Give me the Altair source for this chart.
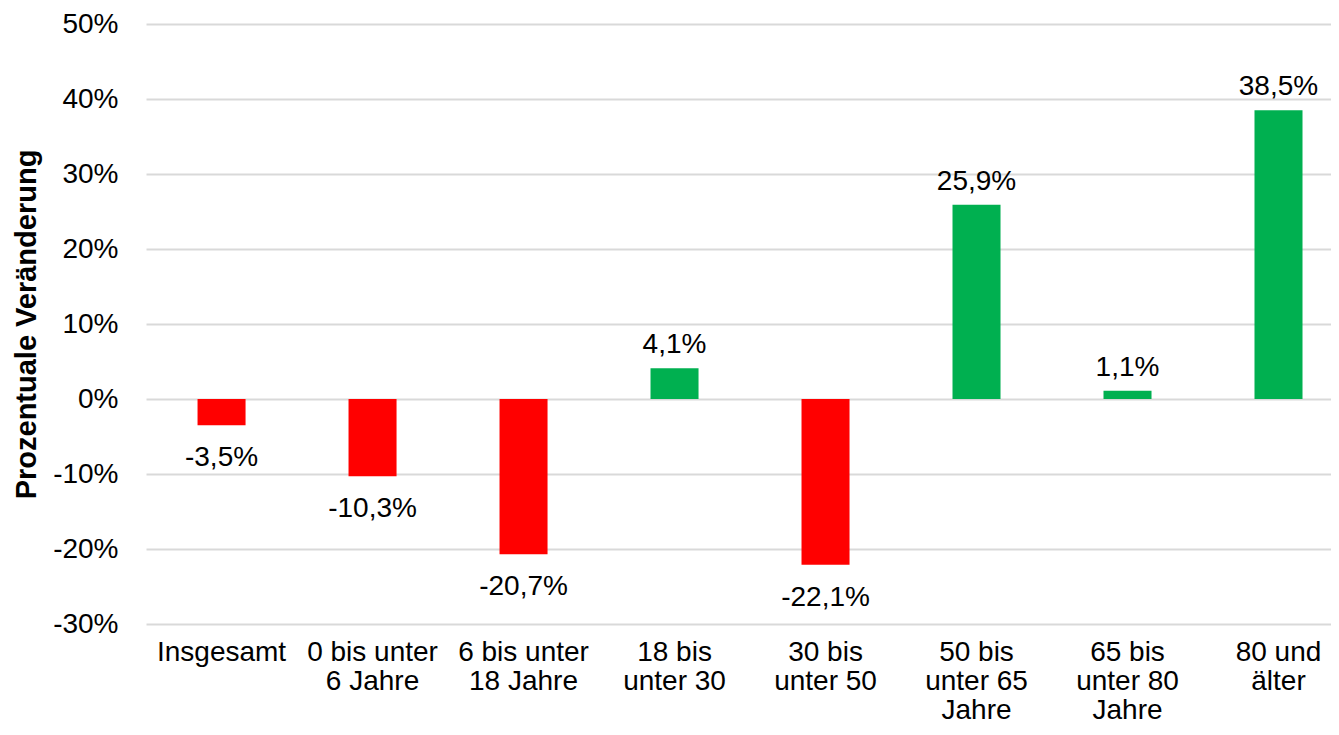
import altair as alt
import pandas as pd

categories = [
    "Insgesamt",
    "0 bis unter|6 Jahre",
    "6 bis unter|18 Jahre",
    "18 bis|unter 30",
    "30 bis|unter 50",
    "50 bis|unter 65|Jahre",
    "65 bis|unter 80|Jahre",
    "80 und|älter",
]
values = [-3.5, -10.3, -20.7, 4.1, -22.1, 25.9, 1.1, 38.5]
y_ticks = [-30, -20, -10, 0, 10, 20, 30, 40, 50]

labels = [f"{v:.1f}".replace(".", ",") + "%" for v in values]
df = pd.DataFrame({"cat": categories, "value": values, "label": labels})

FONT = "Liberation Sans"

x_enc = alt.X(
    "cat:N",
    sort=categories,
    scale=alt.Scale(paddingInner=0.682, paddingOuter=0.265, align=0.644),
    axis=alt.Axis(
        labelExpr="split(datum.label, '|')",
        labelAngle=0,
        domain=False,
        ticks=False,
        grid=False,
        labelPadding=14,
        labelFontSize=28,
        labelLineHeight=29,
        labelFont=FONT,
        labelColor="black",
        labelOverlap=False,
        labelLimit=400,
        title=None,
    ),
)

y_enc = alt.Y(
    "value:Q",
    scale=alt.Scale(domain=[-30, 50], nice=False),
    axis=alt.Axis(
        values=y_ticks,
        labelExpr="datum.value + '%'",
        grid=True,
        gridColor="#d9d9d9",
        gridWidth=2,
        domain=False,
        ticks=False,
        labelPadding=28,
        labelFontSize=28,
        labelFont=FONT,
        labelColor="black",
        title="Prozentuale Veränderung",
        titleFont=FONT,
        titleFontSize=29,
        titleFontWeight="bold",
        titleColor="black",
        titleAngle=270,
        titleX=-111,
        titleY=300,
        titleAlign="center",
        titleBaseline="alphabetic",
    ),
)

base = alt.Chart(df)

bars = base.mark_bar().encode(
    x=x_enc,
    y=y_enc,
    color=alt.condition("datum.value < 0", alt.value("#FF0000"), alt.value("#00B050")),
)

pos_text = base.transform_filter("datum.value >= 0").mark_text(
    font=FONT, fontSize=28, color="black", baseline="alphabetic", dy=-15
).encode(x=alt.X("cat:N", sort=categories), y="value:Q", text="label:N")

neg_text = base.transform_filter("datum.value < 0").mark_text(
    font=FONT, fontSize=28, color="black", baseline="alphabetic", dy=41
).encode(x=alt.X("cat:N", sort=categories), y="value:Q", text="label:N")

chart = (
    alt.layer(bars, pos_text, neg_text)
    .properties(
        width=1185,
        height=600,
        autosize=alt.AutoSizeParams(type="none"),
        padding={"left": 138, "top": 16, "right": 0, "bottom": 102},
        background="white",
    )
    .configure_view(stroke=None)
)

chart.save("out.html", embed_options={"renderer": "svg", "actions": False})
